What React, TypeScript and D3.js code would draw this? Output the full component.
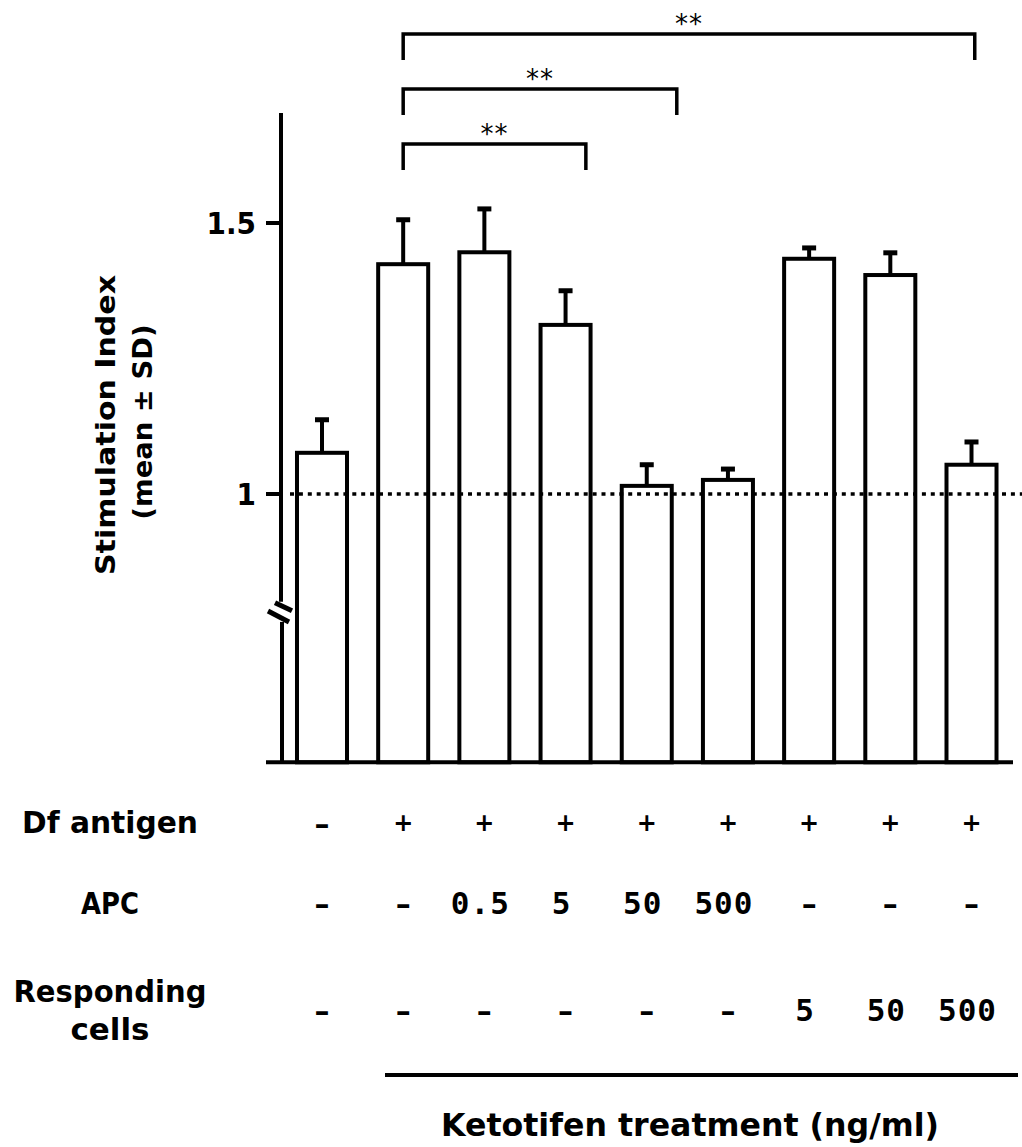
import * as d3 from "d3";

// bar data (mean and SD of the stimulation index)
const means = [1.076, 1.424, 1.446, 1.312, 1.015, 1.026, 1.434, 1.404, 1.054];
const sds = [0.061, 0.082, 0.080, 0.063, 0.039, 0.020, 0.020, 0.041, 0.042];

// condition table under the bars
const dfAntigen = ["–", "+", "+", "+", "+", "+", "+", "+", "+"];
const apc = ["–", "–", "0.5", "5", "50", "500", "–", "–", "–"];
const responding = ["–", "–", "–", "–", "–", "–", "5", "50", "500"];

const yTicks = [1, 1.5];
const yTickLabels = ["1", "1.5"];
const axisBreak = [0.764, 0.805];

// significance brackets: from bar index to (fractional) bar index
const comparisons = [
  { from: 1, to: 3.25, label: "**" },
  { from: 1, to: 4.37, label: "**" },
  { from: 1, to: 8.04, label: "**" },
];

const W = 1022;
const H = 1147;
const BOLD = "'DejaVu Sans', sans-serif";
const COND = "'DejaVu Sans Condensed', 'DejaVu Sans', sans-serif";
const MONO = "'DejaVu Sans Mono', monospace";

function App() {
  const idx = d3.range(means.length);
  const x = d3.scaleBand<number>().domain(idx).range([281.4, 1012.1]).paddingInner(0.384).paddingOuter(0.192);
  const cx = (i: number) => (x(i) as number) + x.bandwidth() / 2;
  const xi = d3.scaleLinear().domain([0, 8]).range([cx(0), cx(8)]);
  const y = d3.scaleLinear().domain([1, 1.5]).range([494, 223]);

  const yBottom = y(0.505);
  const yTop = y(1.703);
  const axisX = 281;

  const rows = [
    { label: ["Df antigen"], lens: [176], ly: [822], vals: dfAntigen, vy: 823 },
    { label: ["APC"], lens: [58], ly: [903], vals: apc, vy: 903 },
    { label: ["Responding", "cells"], lens: [193, 79], ly: [991, 1029], vals: responding, vy: 1010 },
  ];

  const valueText = (v: string, xPos: number, yPos: number, key: string) => {
    if (v === "+") {
      return (
        <text key={key} x={xPos} y={yPos} textAnchor="middle" dominantBaseline="central"
          fontFamily={BOLD} fontWeight="bold" fontSize={24}>+</text>
      );
    }
    if (v === "–") {
      return (
        <text key={key} x={xPos} y={yPos} textAnchor="middle" dominantBaseline="central"
          fontFamily={BOLD} fontWeight="bold" fontSize={30}>–</text>
      );
    }
    return (
      <text key={key} x={xPos - 4} y={yPos} textAnchor="middle" dominantBaseline="central"
        fontFamily={MONO} fontWeight="bold" fontSize={31} letterSpacing={1}>{v}</text>
    );
  };

  return (
    <div style={{ position: "absolute", left: 0, top: 0 }}>
      <svg width={W} height={H} style={{ display: "block", background: "#fff" }}>
        {/* y axis with break */}
        <g stroke="#000" strokeWidth={4} fill="none">
          <line x1={axisX} x2={axisX} y1={yTop} y2={y(axisBreak[1]) + 2} />
          <line x1={axisX + 1} x2={axisX + 1} y1={y(axisBreak[0])} y2={yBottom} />
          <line x1={axisX - 6} y1={y(axisBreak[1]) + 3} x2={axisX + 11} y2={y(axisBreak[1]) + 11} strokeWidth={5} />
          <line x1={axisX - 13} y1={y(axisBreak[0]) - 11} x2={axisX + 8} y2={y(axisBreak[0])} strokeWidth={5} />
          {yTicks.map((t) => (
            <line key={t} x1={axisX - 15} x2={axisX} y1={y(t)} y2={y(t)} />
          ))}
        </g>
        {yTicks.map((t, i) => (
          <text key={t} x={256} y={y(t)} textAnchor="end" dominantBaseline="central"
            fontFamily={COND} fontWeight="bold" fontSize={31}>{yTickLabels[i]}</text>
        ))}

        {/* y axis title */}
        <text transform="translate(106,425) rotate(-90)" textAnchor="middle" dominantBaseline="central"
          fontFamily={BOLD} fontWeight="bold" fontSize={26} textLength={300} lengthAdjust="spacingAndGlyphs">
          Stimulation Index
        </text>
        <text transform="translate(143,422) rotate(-90)" textAnchor="middle" dominantBaseline="central"
          fontFamily={BOLD} fontWeight="bold" fontSize={26} textLength={195} lengthAdjust="spacingAndGlyphs">
          (mean ± SD)
        </text>

        {/* bars */}
        {idx.map((i) => (
          <g key={i} stroke="#000" strokeWidth={4}>
            <line x1={cx(i)} x2={cx(i)} y1={y(means[i])} y2={y(means[i] + sds[i])} />
            <line x1={cx(i) - 7} x2={cx(i) + 7} y1={y(means[i] + sds[i])} y2={y(means[i] + sds[i])} strokeWidth={5} />
            <rect x={x(i)} y={y(means[i])} width={x.bandwidth()} height={yBottom - y(means[i])} fill="#fff" />
          </g>
        ))}

        {/* reference line at 1 */}
        <line x1={290} x2={W} y1={y(1)} y2={y(1)} stroke="#000" strokeWidth={3.5} strokeDasharray="4 4.9" />

        {/* baseline */}
        <line x1={266} x2={1013} y1={yBottom} y2={yBottom} stroke="#000" strokeWidth={4} />

        {/* significance brackets */}
        {comparisons.map((c, k) => {
          const by = 144 - k * 55;
          const x1 = xi(c.from);
          const x2 = xi(c.to);
          return (
            <g key={k}>
              <path d={`M${x1},${by + 26} V${by} H${x2} V${by + 26}`} fill="none" stroke="#000" strokeWidth={3.5} />
              <text x={(x1 + x2) / 2} y={by - 1} textAnchor="middle" fontFamily="'DejaVu Sans', sans-serif"
                fontSize={26} letterSpacing={1}>{c.label}</text>
            </g>
          );
        })}

        {/* condition table */}
        {rows.map((r, ri) => (
          <g key={ri}>
            {r.label.map((l, li) => (
              <text key={li} x={110} y={r.ly[li]} textAnchor="middle" dominantBaseline="central"
                fontFamily={BOLD} fontWeight="bold" fontSize={30} textLength={r.lens[li]}
                lengthAdjust="spacingAndGlyphs">{l}</text>
            ))}
            {r.vals.map((v, i) => valueText(v, cx(i), r.vy, `${ri}-${i}`))}
          </g>
        ))}

        {/* ketotifen treatment marker */}
        <line x1={385} x2={1018} y1={1075} y2={1075} stroke="#000" strokeWidth={4} />
        <text x={690} y={1125} textAnchor="middle" dominantBaseline="central" fontFamily={BOLD}
          fontWeight="bold" fontSize={32} textLength={498} lengthAdjust="spacingAndGlyphs">
          Ketotifen treatment (ng/ml)
        </text>
      </svg>
    </div>
  );
}

export default App;
